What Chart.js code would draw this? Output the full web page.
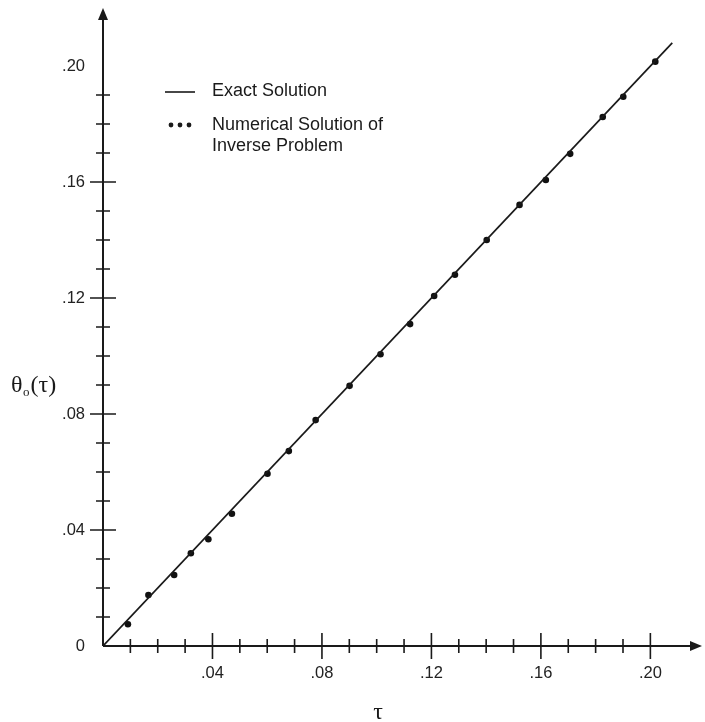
<!DOCTYPE html>
<html>
<head>
<meta charset="utf-8">
<script src="https://cdn.jsdelivr.net/npm/chart.js@4.4.1/dist/chart.umd.min.js"></script>
<style>
    html, body { margin: 0; padding: 0; background: #fff; }
</style>
</head>
<body>
<canvas id="chart" width="705" height="722"></canvas>
<script>
// numerical solution of the inverse problem
const numericTau = [0.0091, 0.0166, 0.0260, 0.0321, 0.0385, 0.0471, 0.0601, 0.0679, 0.0777, 0.0901, 0.1014,
    0.1122, 0.1210, 0.1286, 0.1402, 0.1522, 0.1618, 0.1707, 0.1826, 0.1901, 0.2018];
const numericTheta = [0.0075, 0.0176, 0.0245, 0.0320, 0.0368, 0.0456, 0.0594, 0.0672, 0.0779, 0.0897, 0.1006,
    0.1110, 0.1207, 0.1280, 0.1400, 0.1521, 0.1607, 0.1697, 0.1824, 0.1894, 0.2015];

// exact solution theta = tau
const exactTau = [0, 0.208];
const exactTheta = [0, 0.208];

// tick labels
const xTickValues = [0.04, 0.08, 0.12, 0.16, 0.20];
const xTickLabels = [".04", ".08", ".12", ".16", ".20"];
const yTickValues = [0, 0.04, 0.08, 0.12, 0.16, 0.20];
const yTickLabels = ["0", ".04", ".08", ".12", ".16", ".20"];
const xMinorCount = 20;
const yMinorCount = 19;

const ink = "#1a1a1a";
const sans = "'Liberation Sans', Arial, sans-serif";
const serif = "'Liberation Serif', 'Times New Roman', serif";

const toPoints = (xs, ys) => xs.map((v, i) => ({ x: v, y: ys[i] }));

// axes with arrows and crossing tick marks
const axesPlugin = {
    id: "axes",
    beforeDatasetsDraw(chart) {
        const { ctx, chartArea, scales } = chart;
        const { x, y } = scales;
        const x0 = x.getPixelForValue(0);
        const y0 = y.getPixelForValue(0);

        ctx.save();
        ctx.strokeStyle = ink;
        ctx.fillStyle = ink;
        ctx.lineWidth = 2;

        ctx.beginPath();
        ctx.moveTo(x0, y0);
        ctx.lineTo(x0, chartArea.top + 8);
        ctx.moveTo(x0, y0);
        ctx.lineTo(chartArea.right - 8, y0);
        ctx.stroke();

        // arrow heads
        ctx.beginPath();
        ctx.moveTo(x0, chartArea.top);
        ctx.lineTo(x0 - 5, chartArea.top + 12);
        ctx.lineTo(x0 + 5, chartArea.top + 12);
        ctx.closePath();
        ctx.fill();
        ctx.beginPath();
        ctx.moveTo(chartArea.right + 1, y0);
        ctx.lineTo(chartArea.right - 11, y0 - 5);
        ctx.lineTo(chartArea.right - 11, y0 + 5);
        ctx.closePath();
        ctx.fill();

        ctx.lineWidth = 1.6;
        ctx.beginPath();
        for (let i = 1; i <= xMinorCount; i++) {
            const px = x.getPixelForValue(i / 100);
            const len = i % 4 === 0 ? 13 : 7;
            ctx.moveTo(px, y0 - len);
            ctx.lineTo(px, y0 + len);
        }
        for (let i = 1; i <= yMinorCount; i++) {
            const py = y.getPixelForValue(i / 100);
            const len = i % 4 === 0 ? 13 : 7;
            ctx.moveTo(x0 - len, py);
            ctx.lineTo(x0 + len, py);
        }
        ctx.stroke();
        ctx.restore();
    },
    afterDraw(chart) {
        const { ctx } = chart;
        ctx.save();
        ctx.fillStyle = ink;
        ctx.strokeStyle = ink;

        // axis titles
        ctx.font = "24px " + serif;
        ctx.textAlign = "center";
        ctx.textBaseline = "alphabetic";
        ctx.fillText("τ", 378, 719);

        ctx.textAlign = "left";
        let tx = 11;
        ctx.fillText("θ", tx, 392);
        tx += ctx.measureText("θ").width;
        ctx.font = "13px " + serif;
        ctx.fillText("o", tx + 0.5, 396);
        tx += ctx.measureText("o").width + 1.5;
        ctx.font = "24px " + serif;
        ctx.fillText("(τ)", tx, 392);

        // legend
        ctx.lineWidth = 1.6;
        ctx.beginPath();
        ctx.moveTo(165, 92);
        ctx.lineTo(195, 92);
        ctx.stroke();
        [171, 180, 189].forEach((cx) => {
            ctx.beginPath();
            ctx.arc(cx, 125, 2.4, 0, Math.PI * 2);
            ctx.fill();
        });
        ctx.font = "18px " + sans;
        ctx.textBaseline = "middle";
        ctx.fillText("Exact Solution", 212, 91);
        ctx.fillText("Numerical Solution of", 212, 125);
        ctx.fillText("Inverse Problem", 212, 146);
        ctx.restore();
    },
};

new Chart(document.getElementById("chart"), {
    type: "scatter",
    data: {
        datasets: [
            {
                label: "Exact Solution",
                data: toPoints(exactTau, exactTheta),
                showLine: true,
                borderColor: ink,
                borderWidth: 1.7,
                pointRadius: 0,
            },
            {
                label: "Numerical Solution of Inverse Problem",
                data: toPoints(numericTau, numericTheta),
                backgroundColor: "#111",
                borderColor: "#111",
                borderWidth: 0,
                pointRadius: 3.3,
            },
        ],
    },
    options: {
        responsive: false,
        animation: false,
        layout: { padding: { top: 8, left: 0, right: 0, bottom: 0 } },
        plugins: {
            legend: { display: false },
            tooltip: { enabled: false },
        },
        scales: {
            x: {
                type: "linear",
                min: 0,
                max: 0.2185,
                grid: { display: false, drawTicks: false },
                border: { display: false },
                afterBuildTicks: (scale) => {
                    scale.ticks = xTickValues.map((v) => ({ value: v }));
                },
                afterFit: (scale) => {
                    scale.height = 76;
                    scale.paddingLeft = 0;
                    scale.paddingRight = 0;
                },
                ticks: {
                    padding: 18,
                    maxRotation: 0,
                    color: "#222",
                    font: { family: sans, size: 16.5 },
                    callback: (v, i) => xTickLabels[i],
                },
            },
            y: {
                type: "linear",
                min: 0,
                max: 0.22,
                grid: { display: false, drawTicks: false },
                border: { display: false },
                afterBuildTicks: (scale) => {
                    scale.ticks = yTickValues.map((v) => ({ value: v }));
                },
                afterFit: (scale) => {
                    scale.width = 103;
                    scale.paddingTop = 0;
                    scale.paddingBottom = 0;
                },
                ticks: {
                    padding: 18,
                    color: "#222",
                    font: { family: sans, size: 16.5 },
                    callback: (v, i) => yTickLabels[i],
                },
            },
        },
    },
    plugins: [axesPlugin],
});
</script>
</body>
</html>
